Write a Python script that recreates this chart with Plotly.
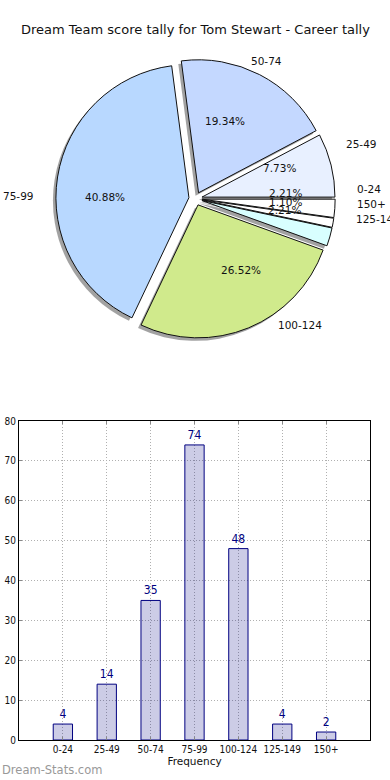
import numpy as np
import plotly.graph_objects as go

# ---- data ----
categories = ["0-24", "25-49", "50-74", "75-99", "100-124", "125-149", "150+"]
counts = [4, 14, 35, 74, 48, 4, 2]
slice_colors = ["#ffffff", "#e8f0ff", "#c4d8ff", "#b8d8ff", "#d0ea8c", "#d8ffff", "#ffffff"]
title_text = "Dream Team score tally for Tom Stewart - Career tally"
y_ticks = [0, 10, 20, 30, 40, 50, 60, 70, 80]

# ---- layout geometry (pixels in a 390x780 page) ----
W, H = 390, 780
cx, cy = 195.5, 198.7       # pie centre
R = 133.0                   # pie radius
PULL = 0.05
rx_lab, ry_lab = 139.0, 126.8   # label placement radii (ref layout)
box = R * (2 + 2 * PULL)

NARROW = "Liberation Sans Narrow, DejaVu Sans Condensed, Arial Narrow, DejaVu Sans"

def px_x(v):
    return v / W

def px_y(v):
    return 1 - v / H

dom_x = [px_x(cx - box / 2), px_x(cx + box / 2)]
dom_y = [px_y(cy + box / 2), px_y(cy - box / 2)]
sh = 3.0
dom_x_sh = [dom_x[0] - sh / W, dom_x[1] - sh / W]
dom_y_sh = [dom_y[0] - sh / H, dom_y[1] - sh / H]

fig = go.Figure()

# shadow pie
fig.add_trace(go.Pie(
    labels=categories, values=counts, sort=False, direction="counterclockwise",
    rotation=90, pull=[PULL] * len(counts), textinfo="none", hoverinfo="skip",
    marker=dict(colors=["rgba(70,70,70,0.5)"] * len(counts), line=dict(width=0)),
    domain=dict(x=dom_x_sh, y=dom_y_sh), showlegend=False,
))
# main pie
fig.add_trace(go.Pie(
    labels=categories, values=counts, sort=False, direction="counterclockwise",
    rotation=90, pull=[PULL] * len(counts), textinfo="none",
    marker=dict(colors=slice_colors, line=dict(color="#111111", width=1)),
    domain=dict(x=dom_x, y=dom_y), showlegend=False,
))

# pie labels (matplotlib-style: label at 1.1 r, pct at 0.6 r from exploded centre)
total = float(sum(counts))
annotations = []
cum = 0.0
for lab, v in zip(categories, counts):
    th = np.deg2rad(360.0 * (cum + v / 2.0) / total)
    cum += v
    c, s = np.cos(th), np.sin(th)
    pxp = cx + (PULL + 0.6) * rx_lab * c
    pyp = cy - (PULL + 0.6) * ry_lab * s
    annotations.append(dict(
        x=px_x(pxp), y=px_y(pyp), xref="paper", yref="paper",
        text="%.2f%%" % (100.0 * v / total), showarrow=False,
        xanchor="center", yanchor="middle",
        font=dict(family="DejaVu Sans", size=10.5, color="#111111"),
    ))
    pxl = cx + (PULL + 1.1) * rx_lab * c
    pyl = cy - (PULL + 1.1) * ry_lab * s
    annotations.append(dict(
        x=px_x(pxl), y=px_y(pyl), xref="paper", yref="paper",
        text=lab, showarrow=False,
        xanchor="left" if c > 0 else "right", yanchor="middle",
        font=dict(family="DejaVu Sans", size=10.5, color="#111111"),
    ))

# title
annotations.append(dict(
    x=0.5, y=px_y(30), xref="paper", yref="paper", text=title_text,
    showarrow=False, xanchor="center", yanchor="middle",
    font=dict(family="DejaVu Sans", size=13, color="#111111"),
))
# watermark
annotations.append(dict(
    x=0.0, y=px_y(770), xref="paper", yref="paper", text="Dream-Stats.com",
    showarrow=False, xanchor="left", yanchor="middle",
    font=dict(family="DejaVu Sans", size=11.5, color="#999999"),
))

# bar chart
fig.add_trace(go.Bar(
    x=list(range(len(categories))), y=counts, width=0.44,
    marker=dict(color="rgba(0,0,128,0.2)", line=dict(color="#000080", width=1)),
    text=[str(c) for c in counts], textposition="outside",
    textfont=dict(family=NARROW, size=12, color="#000080"),
    cliponaxis=False, showlegend=False, xaxis="x", yaxis="y",
))

fig.update_layout(
    width=W, height=H, margin=dict(l=0, r=0, t=0, b=0, autoexpand=False),
    paper_bgcolor="white", plot_bgcolor="white",
    annotations=annotations,
    xaxis=dict(
        domain=[px_x(19), px_x(370)], range=[-1, 7], automargin=False,
        tickmode="array", tickvals=list(range(len(categories))), ticktext=categories,
        ticks="inside", ticklen=3, tickcolor="#888888",
        showline=True, linecolor="black", linewidth=1, mirror="ticks",
        showgrid=True, gridcolor="#b0b0b0", griddash="1px,2px", gridwidth=1,
        zeroline=False, tickfont=dict(family=NARROW, size=10, color="#111111"),
        title=dict(text="Frequency", font=dict(family="DejaVu Sans", size=10.5, color="#111111"), standoff=1),
        anchor="y",
    ),
    yaxis=dict(
        domain=[px_y(740), px_y(421)], range=[0, 80], automargin=False,
        tickmode="array", tickvals=y_ticks,
        ticks="inside", ticklen=3, tickcolor="#888888",
        showline=True, linecolor="black", linewidth=1, mirror="ticks",
        showgrid=True, gridcolor="#b0b0b0", griddash="1px,2px", gridwidth=1,
        zeroline=False, tickfont=dict(family=NARROW, size=10, color="#111111"),
        anchor="x",
    ),
)

fig.write_html(
    "out.html",
    config={"displayModeBar": False},
    post_script="document.body.style.margin='0';document.body.style.overflow='hidden';",
)
